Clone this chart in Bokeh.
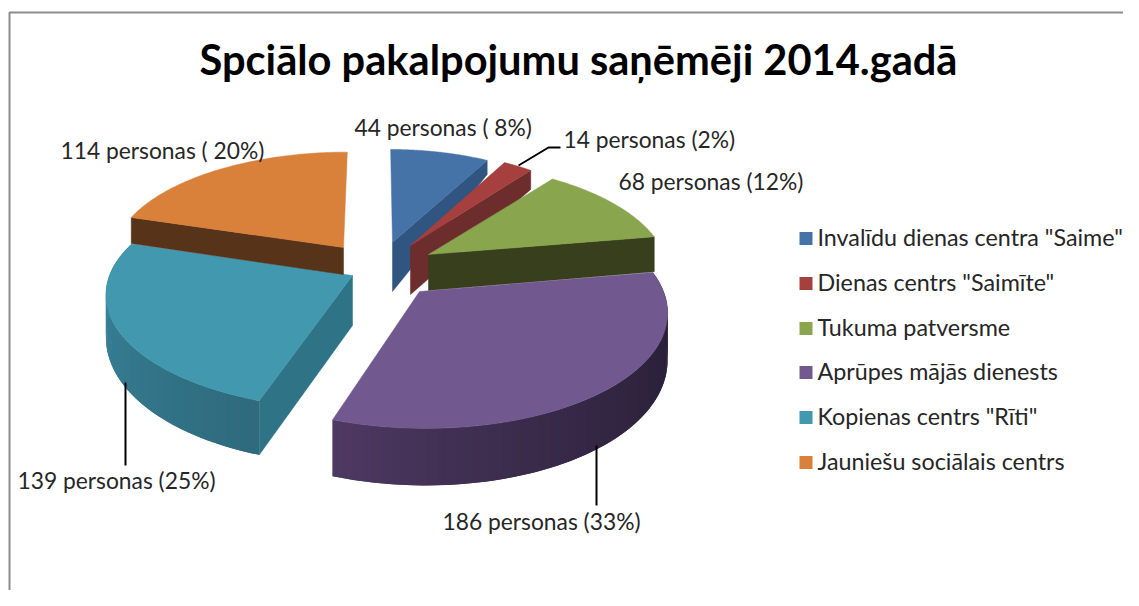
import numpy as np
from bokeh.plotting import figure
from bokeh.models import ColumnDataSource
from bokeh.core.properties import value
from bokeh.embed import file_html
from bokeh.resources import INLINE

# ---- data
categories = ['Invalīdu dienas centra "Saime"', 'Dienas centrs "Saimīte"', 'Tukuma patversme',
              'Aprūpes mājās dienests', 'Kopienas centrs "Rīti"', 'Jauniešu sociālais centrs']
persons = [44, 14, 68, 186, 139, 114]
labels = ['44 personas ( 8%)', '14 personas (2%)', '68 personas (12%)',
          '186 personas (33%)', '139 personas (25%)', '114 personas ( 20%)']
title = 'Spciālo pakalpojumu saņēmēji 2014.gadā'

# ---- colours
top_colors = ['#4572A7', '#A5403E', '#89A54E', '#71588F', '#4198AF', '#D9803B']
wall_start = ['#2F5580', '#6E2D2D', '#373F1D', '#2A2038', '#2F6A7D', '#57331A']
wall_end = ['#2F5580', '#6E2D2D', '#373F1D', '#4E3963', '#3B8AA1', '#57331A']
side_colors = ['#2F5580', '#6E2D2D', '#373F1D', '#2A2038', '#2F7386', '#57331A']
shade_gamma = [1, 1, 1, 2, 1, 1]

# ---- projected geometry of each exploded slice (pixels)
apex_x = [392, 410, 428, 419, 352, 343]
apex_y = [242, 245, 254, 291, 275, 247]
rad_x = [205, 200, 236, 244, 243, 229]
rad_y = [93, 94, 108, 115, 111, 103]
persp = [0.0, 0.0, 0.18, 0.16, 0.17, 0.08]
skew = [-0.02, 0.0, 0.0, -0.045, 0.0, 0.04]
t_apex = [49, 49, 36, 57, 50, 27]
t_mid = [14, 19, 35, 45, 40, 26]
t_cos = [0, 0, 0, 12, 15, 0]
show_start = [False, False, False, False, True, True]
show_end = [True, True, True, False, False, False]
show_outer = [False, False, False, True, True, False]

W, H = 1123, 590
p = figure(width=W, height=H, x_range=(0, W), y_range=(H, 0), output_backend="svg",
           toolbar_location=None, min_border=0, outline_line_color=None,
           background_fill_color="white", border_fill_color="white")
p.axis.visible = False
p.grid.visible = False

# frame
p.line([9, 9, W], [H, 12, 12], line_color="#8C8C8C", line_width=2)


def hex2rgb(h):
    return np.array([int(h[i:i + 2], 16) for i in (1, 3, 5)], dtype=float)


def mix(a, b, f):
    c = hex2rgb(a) * (1 - f) + hex2rgb(b) * f
    return "#%02x%02x%02x" % tuple(int(round(v)) for v in c)


def rim(i, th):
    w = 1 + persp[i] * np.cos(th)
    dy = -rad_y[i] * np.cos(th) / w
    dx = rad_x[i] * np.sin(th) / w - skew[i] * dy
    return apex_x[i] + dx, apex_y[i] + dy


def thick(i, th):
    return t_mid[i] - t_cos[i] * np.cos(th)


edges = np.radians(np.concatenate([[0], np.cumsum(persons)]) / sum(persons) * 360)

xs, ys, cols, lws = [], [], [], []
for i in range(len(persons)):
    a, b = edges[i], edges[i + 1]
    if show_outer[i]:
        n = int(np.degrees(b - a))
        th = np.linspace(a, b, n + 1)
        for j in range(n):
            k = min(j + 2, n)          # overlap the next strip so that no seam shows
            x0, y0 = rim(i, th[j])
            x1, y1 = rim(i, th[k])
            xs.append([x0, x1, x1, x0])
            ys.append([y0, y1, y1 + thick(i, th[k]), y0 + thick(i, th[j])])
            cols.append(mix(wall_start[i], wall_end[i], (j / max(n - 1, 1)) ** shade_gamma[i]))
            lws.append(0)
    for flag, ang in ((show_start[i], a), (show_end[i], b)):
        if flag:
            x0, y0 = rim(i, ang)
            xs.append([apex_x[i], x0, x0, apex_x[i]])
            ys.append([apex_y[i], y0, y0 + thick(i, ang), apex_y[i] + t_apex[i]])
            cols.append(side_colors[i])
            lws.append(0.5)
    th = np.linspace(a, b, 80)
    x, y = rim(i, th)
    xs.append([apex_x[i]] + list(x))
    ys.append([apex_y[i]] + list(y))
    cols.append(top_colors[i])
    lws.append(0.5)

p.patches("x", "y", source=ColumnDataSource(dict(x=xs, y=ys, c=cols, lw=lws)), fill_color="c", line_color="c",
          line_width="lw")

# leader lines
leader_x = [[518, 548, 560], [125, 125], [596, 596]]
leader_y = [[165, 147, 147], [382, 465], [445, 505]]
p.multi_line(leader_x, leader_y, line_color="#000000", line_width=2)

# data labels
label_x = [354, 563, 618, 442, 17, 60]
label_y = [126, 138, 180, 520, 479, 149]
p.text(label_x, label_y, text=labels, text_font=value("Lato"), text_font_size="22.8px",
       text_color="#262626", text_baseline="middle", text_align="left")

# title
p.text([578], [58], text=[title], text_font=value("Lato"), text_font_size="41.6px", text_font_style="bold",
       text_color="#000000", text_baseline="middle", text_align="center")

# legend
leg_y = [238, 283, 328, 372, 417, 462]
p.rect([805.5] * 6, leg_y, width=13, height=13, fill_color=top_colors, line_color=None)
p.text([817] * 6, [y - 2 for y in leg_y], text=categories, text_font=value("Lato"), text_font_size="23.3px",
       text_color="#262626", text_baseline="middle", text_align="left")

open("out.html", "w").write(file_html(p, INLINE))
